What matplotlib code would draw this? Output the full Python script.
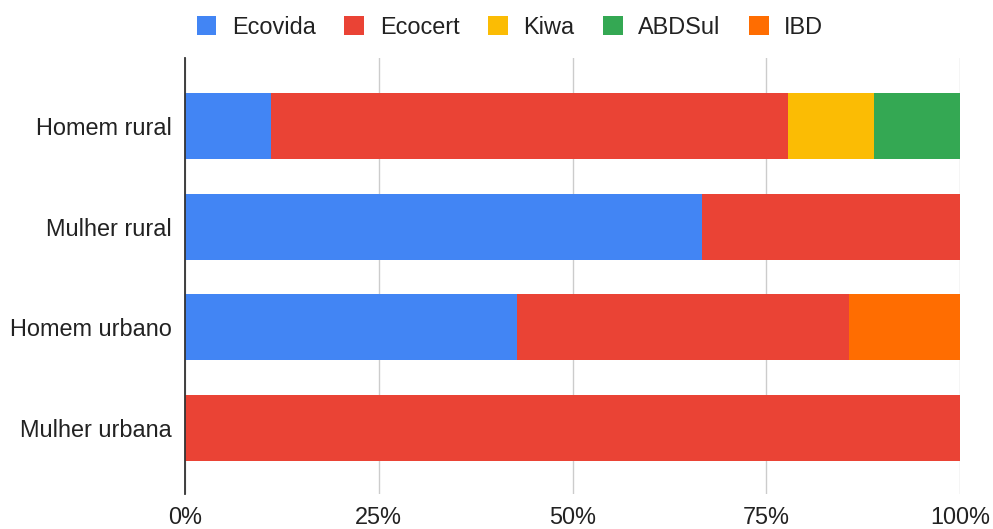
import numpy as np
import matplotlib.pyplot as plt

plt.rcParams['font.family'] = ['Liberation Sans', 'DejaVu Sans']

categories = ['Homem rural', 'Mulher rural', 'Homem urbano', 'Mulher urbana']
series = ['Ecovida', 'Ecocert', 'Kiwa', 'ABDSul', 'IBD']
colors = ['#4285f4', '#ea4335', '#fbbc04', '#34a853', '#ff6d01']

# counts per group (shares)
ecovida = [1, 2, 3, 0]
ecocert = [6, 1, 3, 1]
kiwa = [1, 0, 0, 0]
abdsul = [1, 0, 0, 0]
ibd = [0, 0, 1, 0]

data = np.array([ecovida, ecocert, kiwa, abdsul, ibd], dtype=float)
shares = data / data.sum(axis=0)

fig = plt.figure(figsize=(9.93, 5.29), dpi=100)
ax = fig.add_axes([185/993, 1 - 494/529, 775/993, 436/529])

y = np.arange(len(categories))
left = np.zeros(len(categories))
for i, name in enumerate(series):
    ax.barh(y, shares[i], left=left, height=0.655, color=colors[i],
            label=name, zorder=3)
    left += shares[i]

ax.set_xlim(0, 1)
ax.set_ylim(3.655, -0.675)
ax.set_yticks(y)
ax.set_yticklabels(categories, fontsize=16.9, color='#222222')
ax.set_xticks([0, 0.25, 0.5, 0.75, 1.0])
ax.set_xticklabels(['0%', '25%', '50%', '75%', '100%'], fontsize=16.9,
                   color='#222222')
ax.tick_params(axis='y', length=0, pad=9.5)
ax.tick_params(axis='x', length=0, pad=9)
ax.grid(axis='x', color='#cccccc', linewidth=1, zorder=0)
for s in ['top', 'right', 'bottom']:
    ax.spines[s].set_visible(False)
ax.spines['left'].set_color('#333333')
ax.spines['left'].set_linewidth(1.3)
ax.spines['left'].set_zorder(4)

fig.legend(loc='center', bbox_to_anchor=(510/993, 1 - 27/529), ncol=5,
           frameon=False, fontsize=16.9, handlelength=0.84, handleheight=0.84,
           handletextpad=0.66, columnspacing=1.22, labelcolor='#222222')

plt.savefig('out.png', dpi=100)
